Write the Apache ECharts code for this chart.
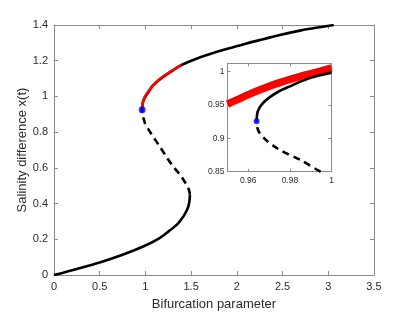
<!DOCTYPE html>
<html>
<head>
<meta charset="utf-8">
<script src="https://cdn.jsdelivr.net/npm/echarts@6/dist/echarts.min.js"></script>
<style>
html,body{margin:0;padding:0;background:#fff;}
#chart{width:415px;height:312px;}
</style>
</head>
<body>
<div id="chart"></div>
<script>
// ---- data ----
var lowerX = [0, 0.1, 0.25, 0.5, 0.75, 1.0, 1.15, 1.25, 1.35, 1.413, 1.45, 1.47, 1.48, 1.485, 1.486];
var lowerY = [0, 0.013, 0.034, 0.07, 0.113, 0.165, 0.205, 0.243, 0.285, 0.326, 0.36, 0.385, 0.41, 0.435, 0.45];

var unstableX = [1.486, 1.48, 1.465, 1.45, 1.43, 1.38, 1.30, 1.23, 1.158, 1.09, 1.04, 1.0, 0.9953, 0.9857, 0.9744, 0.968, 0.9648, 0.964];
var unstableY = [0.45, 0.47, 0.49, 0.505, 0.522, 0.56, 0.61, 0.662, 0.718, 0.77, 0.81, 0.843, 0.849, 0.8665, 0.884, 0.899, 0.9115, 0.9255];

var upperX = [0.964, 0.9645, 0.9665, 0.97, 0.975, 0.98, 0.985, 0.99, 1.0, 1.04, 1.085, 1.195, 1.30, 1.395, 1.55, 1.741, 1.92, 2.106, 2.3, 2.47, 2.7, 2.85, 3.06];
var upperY = [0.9255, 0.94, 0.951, 0.961, 0.971, 0.978, 0.985, 0.991, 0.9985, 1.03, 1.062, 1.11, 1.146, 1.176, 1.21, 1.243, 1.27, 1.297, 1.322, 1.344, 1.37, 1.383, 1.40];

// noisy trajectory as seen in the main axes (thin red) and in the inset (thick red band)
var redMainX = [0.965, 0.968, 0.975, 0.985, 1.0, 1.04, 1.085, 1.14, 1.195, 1.30, 1.395];
var redMainY = [0.94, 0.956, 0.972, 0.988, 1.004, 1.034, 1.064, 1.09, 1.112, 1.148, 1.177];

var redInsetX = [0.95, 0.955, 0.96, 0.965, 0.97, 0.975, 0.98, 0.985, 0.99, 0.995, 1.0];
var redInsetY = [0.9515, 0.9585, 0.9655, 0.972, 0.978, 0.9835, 0.9885, 0.993, 0.997, 1.0012, 1.0055];

var foldX = [0.964];
var foldY = [0.9255];

var mainXTicks = {min: 0, max: 3.5, interval: 0.5};
var mainYTicks = {min: 0, max: 1.4, interval: 0.2};
var insetXRange = [0.95, 1.0];
var insetYRange = [0.85, 1.0125];
var insetXTicks = [0.96, 0.98, 1];
var insetYTicks = [0.85, 0.9, 0.95, 1];

var xLabel = 'Bifurcation parameter';
var yLabel = 'Salinity difference x(t)';

function pairs(xs, ys) { return xs.map(function (x, i) { return [x, ys[i]]; }); }
// keep only the measured points that lie inside the inset's x range
function insetPairs(xs, ys) {
  return pairs(xs, ys).filter(function (p) { return p[0] >= insetXRange[0] && p[0] <= insetXRange[1]; });
}

// ---- styling ----
var axisCol = '#8a8a8a';
var txtCol = '#2b2b2b';
var font = 'Liberation Sans, Arial, Helvetica, sans-serif';

function axisBase(extra) {
  var a = {
    type: 'value',
    axisLine: {show: true, onZero: false, lineStyle: {color: axisCol, width: 1}},
    axisTick: {show: true, inside: true, length: 4, lineStyle: {color: axisCol, width: 1}},
    splitLine: {show: false},
    axisLabel: {color: txtCol, fontFamily: font, fontSize: 11},
    nameMoveOverlap: false
  };
  for (var k in extra) a[k] = extra[k];
  return a;
}

var chart = echarts.init(document.getElementById('chart'), null, {renderer: 'canvas'});

var insetTickLen = 3;

var option = {
  backgroundColor: '#fff',
  animation: false,
  grid: [
    {left: 54, top: 25, width: 320, height: 250, show: false, containLabel: false, outerBoundsMode: 'none'},
    {left: 227.5, top: 63.3, width: 104, height: 108.4, show: true, backgroundColor: '#fff', borderWidth: 0, z: 5,
      containLabel: false, outerBoundsMode: 'none'}
  ],
  xAxis: [
    axisBase({gridIndex: 0, position: 'bottom', min: mainXTicks.min, max: mainXTicks.max, interval: mainXTicks.interval,
      name: xLabel, nameLocation: 'middle', nameGap: 23,
      nameTextStyle: {color: txtCol, fontFamily: font, fontSize: 13},
      axisLabel: {color: txtCol, fontFamily: font, fontSize: 11, margin: 6}}),
    axisBase({gridIndex: 0, position: 'top', min: mainXTicks.min, max: mainXTicks.max, interval: mainXTicks.interval,
      axisLabel: {show: false}}),
    axisBase({gridIndex: 1, position: 'bottom', min: insetXRange[0], max: insetXRange[1], z: 6,
      axisTick: {show: true, inside: true, length: insetTickLen, customValues: insetXTicks, lineStyle: {color: axisCol}},
      axisLabel: {color: txtCol, fontFamily: font, fontSize: 8.5, margin: 4, customValues: insetXTicks}}),
    axisBase({gridIndex: 1, position: 'top', min: insetXRange[0], max: insetXRange[1], z: 6,
      axisTick: {show: true, inside: true, length: insetTickLen, customValues: insetXTicks, lineStyle: {color: axisCol}},
      axisLabel: {show: false}})
  ],
  yAxis: [
    axisBase({gridIndex: 0, position: 'left', min: mainYTicks.min, max: mainYTicks.max, interval: mainYTicks.interval,
      name: yLabel, nameLocation: 'middle', nameGap: 25,
      nameTextStyle: {color: txtCol, fontFamily: font, fontSize: 13},
      axisLabel: {color: txtCol, fontFamily: font, fontSize: 11, margin: 6}}),
    axisBase({gridIndex: 0, position: 'right', min: mainYTicks.min, max: mainYTicks.max, interval: mainYTicks.interval,
      axisLabel: {show: false}}),
    axisBase({gridIndex: 1, position: 'left', min: insetYRange[0], max: insetYRange[1], z: 6,
      axisTick: {show: true, inside: true, length: insetTickLen, customValues: insetYTicks, lineStyle: {color: axisCol}},
      axisLabel: {color: txtCol, fontFamily: font, fontSize: 8.5, margin: 3, customValues: insetYTicks}}),
    axisBase({gridIndex: 1, position: 'right', min: insetYRange[0], max: insetYRange[1], z: 6,
      axisTick: {show: true, inside: true, length: insetTickLen, customValues: insetYTicks, lineStyle: {color: axisCol}},
      axisLabel: {show: false}})
  ],
  series: [
    // main axes
    {type: 'line', xAxisIndex: 0, yAxisIndex: 0, data: pairs(lowerX, lowerY), showSymbol: false, smooth: 0.3,
      lineStyle: {color: '#000', width: 2.6}, z: 2},
    {type: 'line', xAxisIndex: 0, yAxisIndex: 0, data: pairs(unstableX, unstableY), showSymbol: false, smooth: 0.3,
      lineStyle: {color: '#000', width: 2.6, type: [7, 5]}, z: 2},
    {type: 'line', xAxisIndex: 0, yAxisIndex: 0, data: pairs(upperX, upperY), showSymbol: false, smooth: 0.3,
      lineStyle: {color: '#000', width: 2.6}, z: 2},
    {type: 'line', xAxisIndex: 0, yAxisIndex: 0, data: pairs(redMainX, redMainY), showSymbol: false, smooth: 0.3,
      lineStyle: {color: '#ff0000', width: 2.6}, z: 3},
    {type: 'scatter', xAxisIndex: 0, yAxisIndex: 0, data: pairs(foldX, foldY), symbolSize: 7,
      itemStyle: {color: '#0000ff'}, z: 4},
    // inset axes
    {type: 'line', xAxisIndex: 2, yAxisIndex: 2, data: insetPairs(redInsetX, redInsetY), showSymbol: false, smooth: 0.3,
      lineStyle: {color: '#ff0000', width: 7.5}, z: 7},
    {type: 'line', xAxisIndex: 2, yAxisIndex: 2, data: insetPairs(upperX, upperY), showSymbol: false, smooth: 0.3,
      lineStyle: {color: '#000', width: 2.6}, z: 7},
    {type: 'line', xAxisIndex: 2, yAxisIndex: 2, data: insetPairs(unstableX, unstableY), showSymbol: false, smooth: 0.3,
      lineStyle: {color: '#000', width: 2.6, type: [7, 5]}, z: 7},
    {type: 'scatter', xAxisIndex: 2, yAxisIndex: 2, data: pairs(foldX, foldY), symbolSize: 6,
      itemStyle: {color: '#0000ff'}, z: 8}
  ]
};
chart.setOption(option);
</script>
</body>
</html>
